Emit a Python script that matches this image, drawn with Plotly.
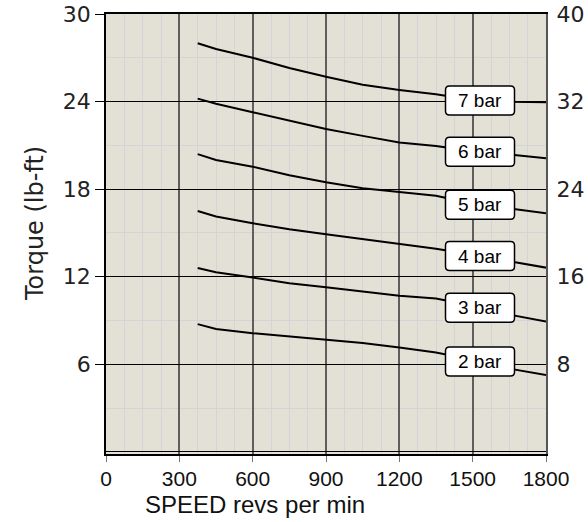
import numpy as np
import plotly.graph_objects as go

# ---- data ----
speed = [375, 450, 600, 750, 900, 1050, 1200, 1350, 1500, 1650, 1800]
bar7 = [28.0, 27.6, 27.0, 26.3, 25.7, 25.15, 24.8, 24.5, 24.1, 23.98, 23.95]
bar6 = [24.2, 23.85, 23.27, 22.7, 22.12, 21.65, 21.2, 20.95, 20.6, 20.38, 20.12]
bar5 = [20.4, 20.0, 19.54, 18.95, 18.47, 18.06, 17.8, 17.55, 17.0, 16.66, 16.35]
bar4 = [16.5, 16.12, 15.66, 15.25, 14.91, 14.59, 14.22, 13.92, 13.5, 13.05, 12.62]
bar3 = [12.6, 12.31, 11.94, 11.55, 11.28, 10.98, 10.7, 10.5, 10.0, 9.4, 8.92]
bar2 = [8.75, 8.42, 8.13, 7.9, 7.7, 7.45, 7.15, 6.8, 6.3, 5.7, 5.27]
series = [("7 bar", bar7), ("6 bar", bar6), ("5 bar", bar5),
          ("4 bar", bar4), ("3 bar", bar3), ("2 bar", bar2)]
label_speed = 1530

x_ticks = [0, 300, 600, 900, 1200, 1500, 1800]
y_ticks = [6, 12, 18, 24, 30]
y2_ticks = [8, 16, 24, 32, 40]

fig = go.Figure()
for name, vals in series:
    fig.add_trace(go.Scatter(x=speed, y=vals, mode="lines", name=name,
                             line=dict(color="black", width=2), showlegend=False))

# invisible traces for the secondary axes
fig.add_trace(go.Scatter(x=[0], y=[0], yaxis="y2", mode="markers",
                         marker=dict(opacity=0), showlegend=False, hoverinfo="skip"))
fig.add_trace(go.Scatter(x=[0], y=[0], xaxis="x2", mode="markers",
                         marker=dict(opacity=0), showlegend=False, hoverinfo="skip"))

# label boxes
hx, hy, r = 34.5, 14.5, 4
path = (f"M {-hx+r},{-hy} L {hx-r},{-hy} Q {hx},{-hy} {hx},{-hy+r} "
        f"L {hx},{hy-r} Q {hx},{hy} {hx-r},{hy} L {-hx+r},{hy} "
        f"Q {-hx},{hy} {-hx},{hy-r} L {-hx},{-hy+r} Q {-hx},{-hy} {-hx+r},{-hy} Z")
for name, vals in series:
    ly = float(np.interp(label_speed, speed, vals))
    fig.add_shape(type="path", xref="x", yref="y", xsizemode="pixel", ysizemode="pixel",
                  xanchor=label_speed, yanchor=ly, path=path,
                  fillcolor="white", line=dict(color="black", width=1.5), layer="above")
    fig.add_annotation(x=label_speed, y=ly, xref="x", yref="y", text=name,
                       showarrow=False, font=dict(family="Liberation Sans, Arial", size=19, color="black"))

# axis titles
fig.add_annotation(x=0.339, y=-0.114, xref="paper", yref="paper", text="SPEED revs per min",
                   xanchor="center", yanchor="middle", showarrow=False,
                   font=dict(family="Liberation Sans, Arial", size=24, color="#111"))
fig.add_annotation(x=-0.161, y=0.523, xref="paper", yref="paper", text="Torque (lb-ft)",
                   xanchor="center", yanchor="middle", textangle=-90, showarrow=False,
                   font=dict(family="DejaVu Sans", size=24, color="#222"))

tickfont_lr = dict(family="DejaVu Sans", size=22, color="#222")

fig.update_layout(
    width=588, height=522,
    margin=dict(l=106, r=42, t=14, b=68, autoexpand=False),
    paper_bgcolor="white", plot_bgcolor="#e3e1d5",
    xaxis=dict(range=[0, 1800], tickvals=x_ticks, showgrid=True, gridcolor="#5e5e5e", gridwidth=2,
               minor=dict(dtick=75, tick0=0, showgrid=True, gridcolor="#d4d4d8", gridwidth=1),
               showline=True, linecolor="black", linewidth=1.5, mirror=True, automargin=False,
               ticks="outside", ticklen=6, tickcolor="#777", zeroline=False,
               showticklabels=False),
    xaxis2=dict(range=[0, 1800], tickvals=x_ticks, overlaying="x", side="bottom",
                showgrid=False, zeroline=False, showline=False, ticks="", automargin=False,
                ticklabeloverflow="allow", ticklabelstandoff=10,
                tickfont=dict(family="Liberation Sans, Arial", size=21, color="#111")),
    yaxis=dict(range=[-0.15, 30], tickvals=y_ticks, showgrid=True, gridcolor="black", gridwidth=1,
               minor=dict(dtick=3, tick0=0, showgrid=True, gridcolor="#d4d4d8", gridwidth=1),
               showline=True, linecolor="black", linewidth=1.5, automargin=False,
               zeroline=True, zerolinecolor="black", zerolinewidth=1,
               ticks="outside", ticklen=9, tickcolor="black", ticklabelstandoff=0,
               ticklabeloverflow="allow", tickfont=tickfont_lr),
    yaxis2=dict(range=[-0.2, 40], tickvals=y2_ticks, overlaying="y", side="right",
                showgrid=False, zeroline=False, showline=True, linecolor="#555", linewidth=2,
                ticks="", ticklabelstandoff=4, automargin=False,
                ticklabeloverflow="allow", tickfont=tickfont_lr),
)

fig.write_html("out.html", config={"displayModeBar": False},
               post_script="document.body.style.margin='0';")
